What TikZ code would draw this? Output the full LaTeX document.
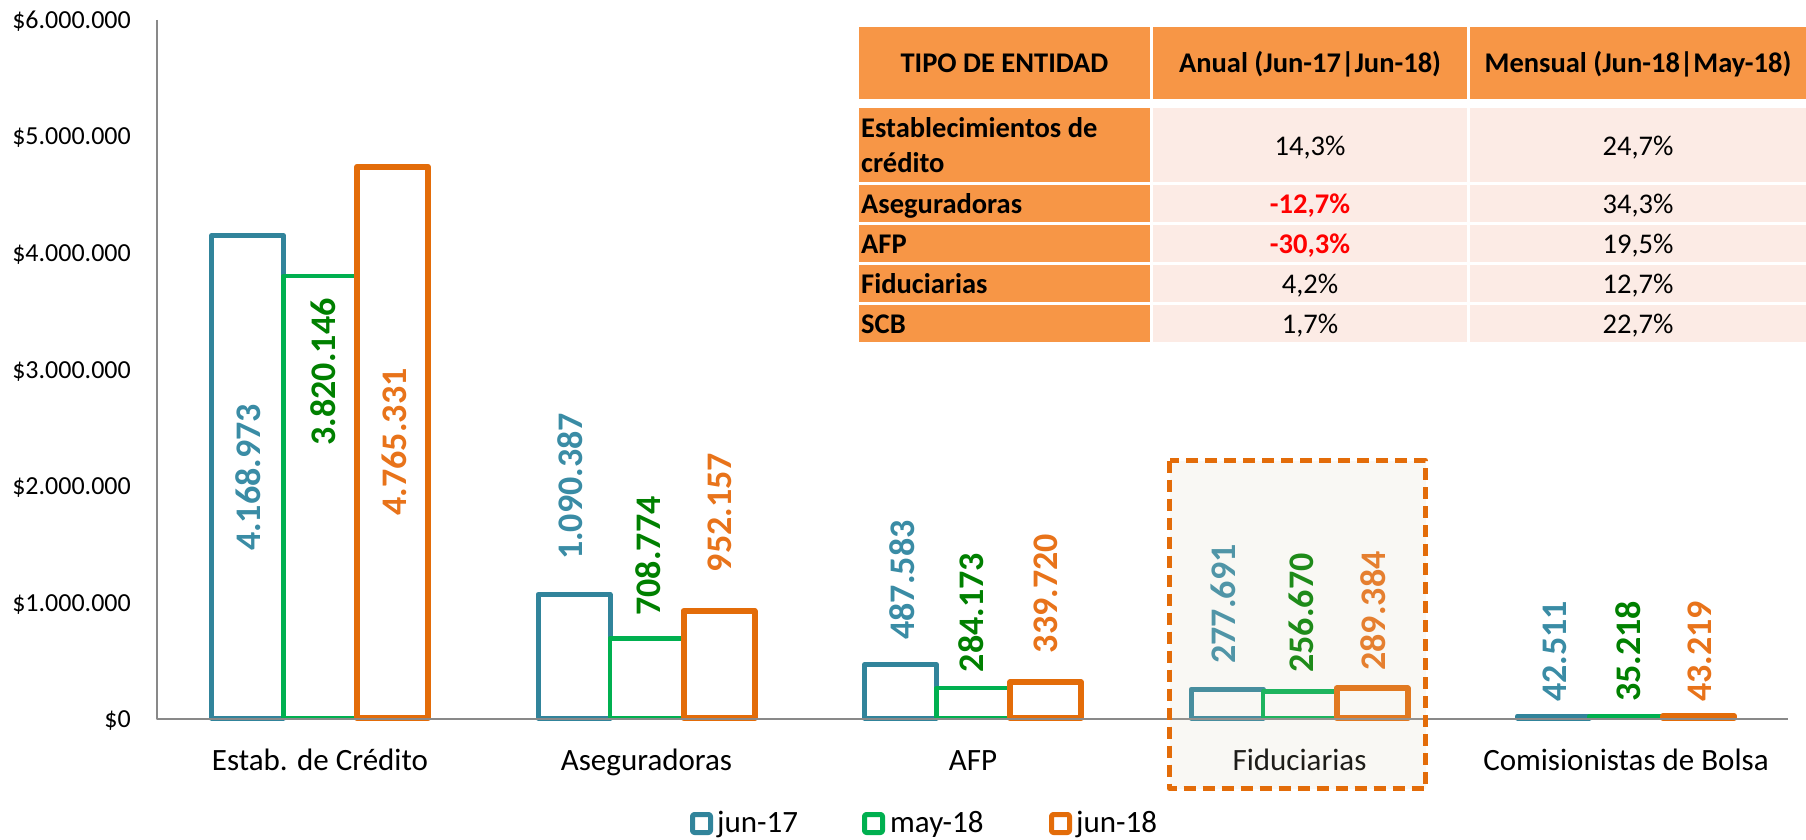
\documentclass[tikz,border=0pt]{standalone}
\usepackage{fontspec}
\setmainfont{Carlito}
\definecolor{barblue}{HTML}{31849B}
\definecolor{bargreen}{HTML}{00B050}
\definecolor{barorange}{HTML}{E36C09}
\definecolor{lblblue}{HTML}{3A8CA5}
\definecolor{lblgreen}{HTML}{008000}
\definecolor{lblorange}{HTML}{E8731A}
\definecolor{axisgray}{HTML}{898989}
\definecolor{hdrorange}{HTML}{F79646}
\definecolor{cellpink}{HTML}{FCEBE5}
\definecolor{boxfill}{HTML}{D8CFB4}
\definecolor{negred}{HTML}{FF0000}
\begin{document}
\begin{tikzpicture}[x=1pt,y=-1pt,line join=round,
  axisline/.style={draw=axisgray,line width=1.5pt},
  ylab/.style={anchor=base east,inner sep=0pt,font=\fontsize{26}{30}\selectfont},
  catlab/.style={anchor=base,inner sep=0pt,font=\fontsize{31}{36}\selectfont},
  vlab/.style={rotate=90,anchor=center,inner sep=0pt,font=\fontsize{36}{40}\selectfont\bfseries},
  bblue/.style={draw=barblue,fill=white,line width=5pt},
  bgreen/.style={draw=bargreen,fill=white,line width=4.5pt},
  borange/.style={draw=barorange,fill=white,line width=6pt},
  legsq/.style={fill=white,line width=5pt,rounded corners=2pt},
  legtext/.style={anchor=base west,inner sep=0pt,font=\fontsize{31}{36}\selectfont},
  hdrcell/.style={fill=hdrorange},
  bodycell/.style={fill=cellpink},
  tabhead/.style={anchor=base,inner sep=0pt,font=\fontsize{28.5}{34}\selectfont\bfseries},
  tabname/.style={anchor=base west,inner sep=0pt,font=\fontsize{28.5}{34}\selectfont\bfseries},
  tabval/.style={anchor=base,inner sep=0pt,font=\fontsize{28.5}{34}\selectfont},
  tabneg/.style={anchor=base,inner sep=0pt,text=negred,font=\fontsize{28.5}{34}\selectfont\bfseries},
  dashbox/.style={draw=barorange,line width=5pt,dash pattern=on 12pt off 7pt,fill=boxfill,fill opacity=0.14}
]
\useasboundingbox (0,0) rectangle (1806,840);
\fill[white] (0,0) rectangle (1806,840);

% axes
\coordinate (ytop) at (157,20);
\coordinate (orig) at (157,719);
\coordinate (xend) at (1788,719);

% y labels
\node[ylab] (y0) at (131,727.5) {\$0};
\node[ylab] (y1) at (131,611) {\$1.000.000};
\node[ylab] (y2) at (131,494.5) {\$2.000.000};
\node[ylab] (y3) at (131,378) {\$3.000.000};
\node[ylab] (y4) at (131,261.5) {\$4.000.000};
\node[ylab] (y5) at (131,145) {\$5.000.000};
\node[ylab] (y6) at (131,28.5) {\$6.000.000};

% bars
\foreach \c/\a/\b/\d in {0/4.168973/3.820146/4.765331,
                         1/1.090387/0.708774/0.952157,
                         2/0.487583/0.284173/0.339720,
                         3/0.277691/0.256670/0.289384,
                         4/0.042511/0.035218/0.043219}{
  \pgfmathsetmacro\X{320+326.5*\c}
  \pgfmathsetmacro\ta{min(719-\a*116.5+2.5,716)}
  \pgfmathsetmacro\tb{min(719-\b*116.5+2.25,716)}
  \pgfmathsetmacro\td{min(719-\d*116.5+3,716)}
  \draw[bblue] (\X-108.5,718) rectangle (\X-36.5,\ta);
  \draw[bgreen] (\X-36.5,718) rectangle (\X+36.5,\tb);
  \draw[borange] (\X+37,718) rectangle (\X+108,\td);
}

\draw[axisline] (ytop) -- (orig) -- (xend);

% value labels
\node[vlab,text=lblblue]   (l00) at (248.5,477.5) {4.168.973};
\node[vlab,text=lblgreen]  (l01) at (323.5,372) {3.820.146};
\node[vlab,text=lblorange] (l02) at (394,442) {4.765.331};
\node[vlab,text=lblblue]   (l10) at (570,486.5) {1.090.387};
\node[vlab,text=lblgreen]  (l11) at (648,556) {708.774};
\node[vlab,text=lblorange] (l12) at (720,512.5) {952.157};
\node[vlab,text=lblblue]   (l20) at (902,580) {487.583};
\node[vlab,text=lblgreen]  (l21) at (971,612.5) {284.173};
\node[vlab,text=lblorange] (l22) at (1046,593.5) {339.720};
\node[vlab,text=lblblue]   (l30) at (1223,604) {277.691};
\node[vlab,text=lblgreen]  (l31) at (1301,613) {256.670};
\node[vlab,text=lblorange] (l32) at (1373,611) {289.384};
\node[vlab,text=lblblue]   (l40) at (1555,651.5) {42.511};
\node[vlab,text=lblgreen]  (l41) at (1628,651.5) {35.218};
\node[vlab,text=lblorange] (l42) at (1700,651.5) {43.219};

% category labels
\node[catlab] (c0) at (320,770) {Estab. de Crédito};
\node[catlab] (c1) at (646.5,770) {Aseguradoras};
\node[catlab] (c2) at (973,770) {AFP};
\node[catlab] (c3) at (1299.5,770) {Fiduciarias};
\node[catlab] (c4) at (1626,770) {Comisionistas de Bolsa};

% highlight box
\draw[dashbox] (1169.5,460.5) rectangle (1425.5,788.5);

% legend
\draw[legsq,draw=barblue] (692.5,814.5) rectangle (710.5,832.5);
\node[legtext] (g0) at (717,832) {jun-17};
\draw[legsq,draw=bargreen] (864.5,814.5) rectangle (882.5,832.5);
\node[legtext] (g1) at (890,832) {may-18};
\draw[legsq,draw=barorange] (1051.5,814.5) rectangle (1069.5,832.5);
\node[legtext] (g2) at (1076,832) {jun-18};

% table cells
\fill[hdrorange] (859,27) rectangle (1150,99);
\fill[hdrorange] (1153,27) rectangle (1467,99);
\fill[hdrorange] (1470,27) rectangle (1806,99);
\foreach \ya/\yb in {108/182,185/222,225/262,265/302,305/342}{
  \fill[hdrorange] (859,\ya) rectangle (1150,\yb);
  \fill[cellpink] (1153,\ya) rectangle (1467,\yb);
  \fill[cellpink] (1470,\ya) rectangle (1806,\yb);
}

% table text
\node[tabhead] (h0) at (1004.5,73) {TIPO DE ENTIDAD};
\node[tabhead] (h1) at (1310,73) {Anual (Jun-17|Jun-18)};
\node[tabhead] (h2) at (1638,73) {Mensual (Jun-18|May-18)};

\node[tabname] (r1a) at (861,137) {Establecimientos de};
\node[tabname] (r1b) at (861,172) {crédito};
\node[tabval] (v11) at (1310,155) {14,3\%};
\node[tabval] (v12) at (1638,155) {24,7\%};

\node[tabname] (r2) at (861,213.5) {Aseguradoras};
\node[tabneg] (v21) at (1310,213.5) {-12,7\%};
\node[tabval] (v22) at (1638,213.5) {34,3\%};

\node[tabname] (r3) at (861,253.5) {AFP};
\node[tabneg] (v31) at (1310,253.5) {-30,3\%};
\node[tabval] (v32) at (1638,253.5) {19,5\%};

\node[tabname] (r4) at (861,293.5) {Fiduciarias};
\node[tabval] (v41) at (1310,293.5) {4,2\%};
\node[tabval] (v42) at (1638,293.5) {12,7\%};

\node[tabname] (r5) at (861,333.5) {SCB};
\node[tabval] (v51) at (1310,333.5) {1,7\%};
\node[tabval] (v52) at (1638,333.5) {22,7\%};
\end{tikzpicture}
\end{document}
